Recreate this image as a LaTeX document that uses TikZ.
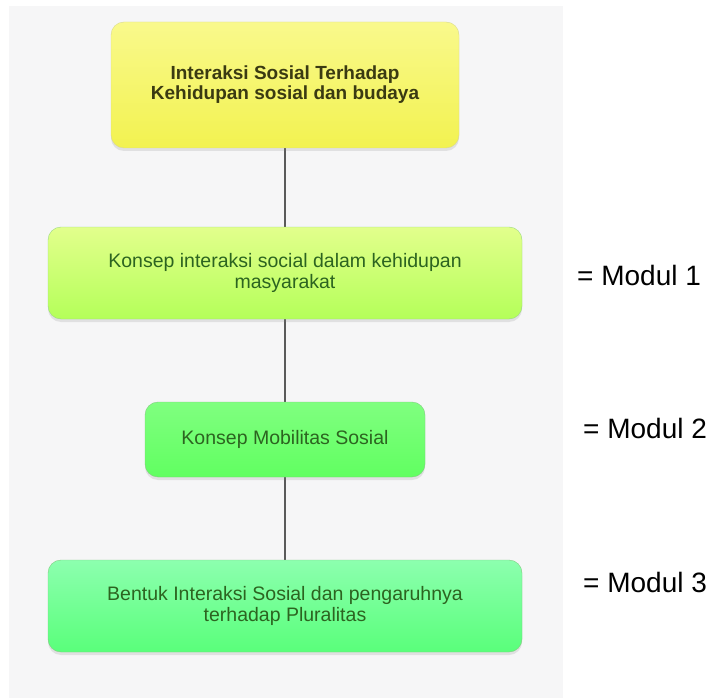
\documentclass[tikz,border=0pt]{standalone}
\usepackage{fontspec}
\setmainfont{Liberation Sans}
\usepackage{tikz}
\usetikzlibrary{shadows}
\definecolor{panelgray}{HTML}{F6F6F7}
\definecolor{linkgray}{HTML}{5A5A5A}
\definecolor{olivetext}{HTML}{3A3A12}
\definecolor{greentext}{HTML}{2C6420}
\definecolor{headtop}{HTML}{F9F98C}
\definecolor{headbot}{HTML}{F2F250}
\tikzset{box/.style={rounded corners=13pt, minimum height=92pt, inner sep=0pt, align=center,
    drop shadow={opacity=0.18, shadow xshift=0pt, shadow yshift=-3pt}}}
\tikzset{headbox/.style={box, minimum width=348pt, minimum height=126pt, draw=headbot!80!black!60,
    top color=headtop, bottom color=headbot, text=olivetext,
    font=\fontsize{19}{20}\selectfont\bfseries}}
\tikzset{modbox/.style={box, text=greentext, font=\fontsize{19.5}{20.5}\selectfont}}
\tikzset{link/.style={line width=1.3pt, linkgray}}
\tikzset{tag/.style={anchor=west, inner sep=0pt, font=\fontsize{28}{30}\selectfont}}
\begin{document}
\begin{tikzpicture}[x=1pt, y=-1pt]
  % Canvas
  \useasboundingbox (0,0) rectangle (718,698);
  \fill[panelgray] (9,6) rectangle (563,698);
  % Connectors first, boxes cover their ends
  \coordinate (c0) at (285,148);
  \coordinate (c1) at (285,227);
  \coordinate (c2) at (285,319);
  \coordinate (c3) at (285,402);
  \coordinate (c4) at (285,477);
  \coordinate (c5) at (285,560);
  \draw[link] (c0) -- (c1);
  \draw[link] (c2) -- (c3);
  \draw[link] (c4) -- (c5);
  % Boxes
  \node[headbox] (head) at (285,85) {Interaksi Sosial Terhadap\\Kehidupan sosial dan budaya};
  \node[modbox, minimum width=474pt, draw=green!70!yellow!70!black!50,
    top color=green!25!yellow!45, bottom color=green!45!yellow!65!white] (mod1) at (285,273)
    {Konsep interaksi social dalam kehidupan\\masyarakat};
  \node[modbox, minimum width=280pt, minimum height=75pt, draw=green!60!black!50,
    top color=green!50, bottom color=green!62!white] (mod2) at (285,439.5)
    {Konsep Mobilitas Sosial};
  \node[modbox, minimum width=474pt, draw=green!60!black!50,
    top color=green!70!cyan!45, bottom color=green!80!cyan!65!white] (mod3) at (285,606)
    {Bentuk Interaksi Sosial dan pengaruhnya\\terhadap Pluralitas};
  % Module tags
  \node[tag] (tag1) at (577,275) {= Modul 1};
  \node[tag] (tag2) at (583,428) {= Modul 2};
  \node[tag] (tag3) at (583,582) {= Modul 3};
\end{tikzpicture}
\end{document}
